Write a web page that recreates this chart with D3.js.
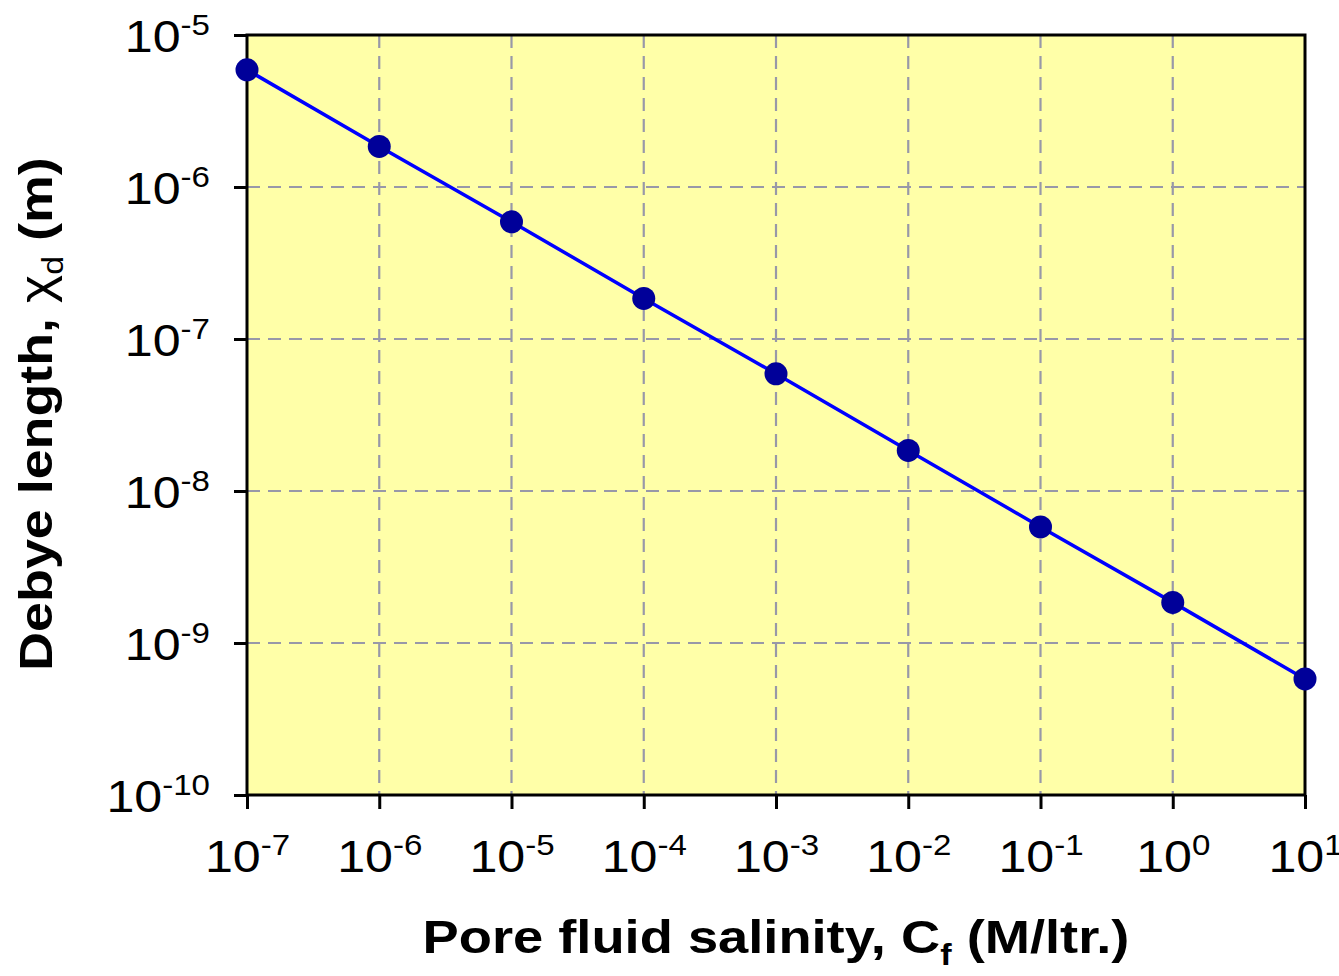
<!DOCTYPE html>
<html>
<head>
<meta charset="utf-8">
<script src="https://cdn.jsdelivr.net/npm/d3@7"></script>
<style>
  html, body { margin: 0; padding: 0; background: #fff; }
  svg { display: block; font-family: Arial, "Liberation Sans", sans-serif; }
</style>
</head>
<body>
<svg id="chart" width="1339" height="976"></svg>
<script>
// salinity (M/ltr.) and Debye length (m)
const salinity = [1e-7, 1e-6, 1e-5, 1e-4, 1e-3, 1e-2, 1e-1, 1e0, 1e1];
const debyeLength = [5.9e-6, 1.85e-6, 5.9e-7, 1.85e-7, 5.9e-8, 1.85e-8, 5.8e-9, 1.85e-9, 5.8e-10];
const xTickExps = [-7, -6, -5, -4, -3, -2, -1, 0, 1];
const yTickExps = [-10, -9, -8, -7, -6, -5];

const svg = d3.select('#chart');
const margin = { left: 247, top: 35, right: 1339 - 1305, bottom: 976 - 795 };
const width = 1339 - margin.left - margin.right;
const height = 976 - margin.top - margin.bottom;

const x = d3.scaleLog().domain([1e-7, 1e1]).range([0, width]);
const y = d3.scaleLog().domain([1e-10, 1e-5]).range([height, 0]);

const g = svg.append('g').attr('transform', `translate(${margin.left},${margin.top})`);

g.append('rect').attr('width', width).attr('height', height).attr('fill', '#ffffa8');

// dashed grid
g.append('g').selectAll('line')
  .data(xTickExps.slice(1, -1))
  .join('line')
  .attr('x1', (e) => x(Math.pow(10, e))).attr('x2', (e) => x(Math.pow(10, e)))
  .attr('y1', 0).attr('y2', height)
  .attr('stroke', '#9898a8').attr('stroke-width', 2.2).attr('stroke-dasharray', '13,8');
g.append('g').selectAll('line')
  .data(yTickExps.slice(1, -1))
  .join('line')
  .attr('y1', (e) => y(Math.pow(10, e))).attr('y2', (e) => y(Math.pow(10, e)))
  .attr('x1', 0).attr('x2', width)
  .attr('stroke', '#9898a8').attr('stroke-width', 2.2).attr('stroke-dasharray', '13,8');

// frame
g.append('rect').attr('width', width).attr('height', height)
  .attr('fill', 'none').attr('stroke', '#000').attr('stroke-width', 3);

function powLabel(sel) {
  sel.each(function (e) {
    const t = d3.select(this);
    t.text(null);
    t.append('tspan').attr('font-size', 44).text('10');
    t.append('tspan').attr('font-size', 29).attr('dy', -17).text(e);
  });
}

const xAxis = g.append('g')
  .attr('transform', `translate(0,${height})`)
  .call(d3.axisBottom(x).tickValues(xTickExps.map((e) => Math.pow(10, e))).tickSize(14).tickPadding(0));
xAxis.select('.domain').remove();
xAxis.selectAll('line').attr('stroke-width', 3);
xAxis.selectAll('text').data(xTickExps)
  .attr('y', null).attr('dy', null).attr('fill', '#000').attr('text-anchor', 'middle')
  .attr('transform', 'translate(0,77) scale(1.14,1)')
  .call(powLabel);

const yAxis = g.append('g')
  .call(d3.axisLeft(y).tickValues(yTickExps.map((e) => Math.pow(10, e))).tickSize(13).tickPadding(0));
yAxis.select('.domain').remove();
yAxis.selectAll('line').attr('stroke-width', 3);
yAxis.selectAll('text').data(yTickExps)
  .attr('x', null).attr('dy', null).attr('fill', '#000').attr('text-anchor', 'end')
  .attr('transform', 'translate(-37,16) scale(1.14,1)')
  .call(powLabel);

// series
g.append('path')
  .datum(salinity.map((c, i) => [c, debyeLength[i]]))
  .attr('fill', 'none').attr('stroke', '#0000ff').attr('stroke-width', 3.5)
  .attr('d', d3.line().x((d) => x(d[0])).y((d) => y(d[1])));
g.append('g').selectAll('circle')
  .data(salinity.map((c, i) => [c, debyeLength[i]]))
  .join('circle')
  .attr('cx', (d) => x(d[0])).attr('cy', (d) => y(d[1]))
  .attr('r', 11.5).attr('fill', '#000099');

// axis titles
const xt = svg.append('text')
  .attr('transform', 'translate(776,953) scale(1.18,1)').attr('text-anchor', 'middle')
  .attr('font-size', 46).attr('font-weight', 'bold');
xt.append('tspan').text('Pore fluid salinity, C');
xt.append('tspan').attr('font-size', 29).attr('dy', 12).text('f');
xt.append('tspan').attr('dy', -12).text(' (M/ltr.)');

const yt = svg.append('text')
  .attr('transform', 'translate(52,414) rotate(-90) scale(1.17,1)').attr('text-anchor', 'middle')
  .attr('font-size', 46).attr('font-weight', 'bold');
yt.append('tspan').text('Debye length, ');
yt.append('tspan').attr('font-weight', 'normal').text('χ');
yt.append('tspan').attr('font-weight', 'normal').attr('font-size', 29).attr('dy', 11).text('d');
yt.append('tspan').attr('dy', -11).text(' (m)');
</script>
</body>
</html>
